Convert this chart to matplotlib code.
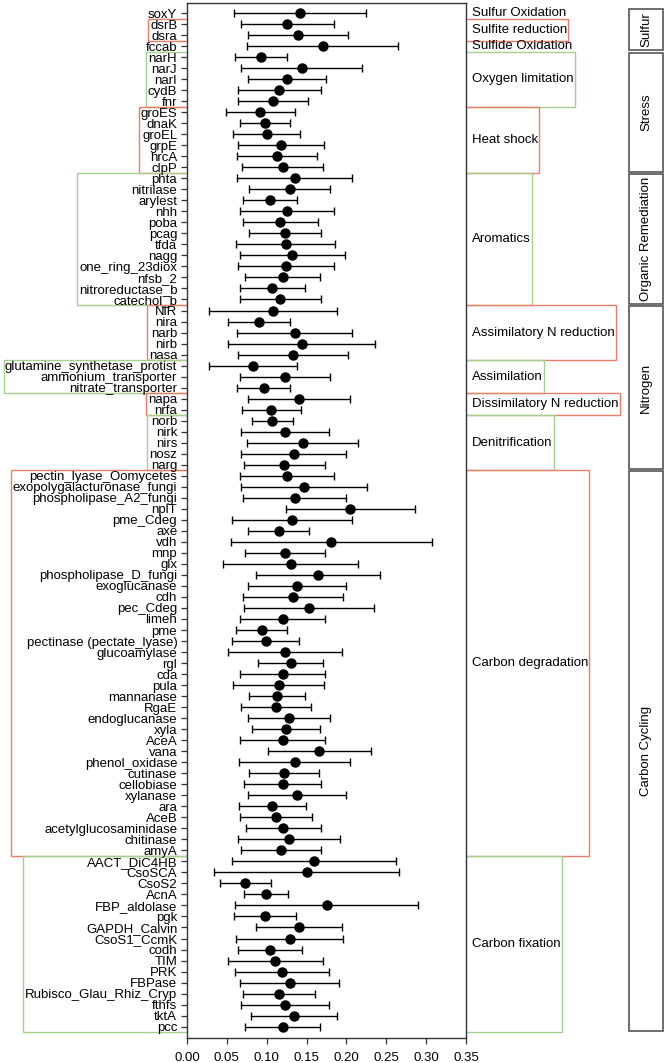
import matplotlib
matplotlib.use("Agg")
import matplotlib.pyplot as plt
from matplotlib.patches import Rectangle
from matplotlib.transforms import blended_transform_factory
import numpy as np

plt.rcParams['font.family'] = ['Liberation Sans', 'DejaVu Sans']

# ---------------- data ----------------
genes = [
    "soxY", "dsrB", "dsra", "fccab",
    "narH", "narJ", "narI", "cydB", "fnr",
    "groES", "dnaK", "groEL", "grpE", "hrcA", "clpP",
    "phta", "nitrilase", "arylest", "nhh", "poba", "pcag", "tfda", "nagg",
    "one_ring_23diox", "nfsb_2", "nitroreductase_b", "catechol_b",
    "NiR", "nira", "narb", "nirb", "nasa",
    "glutamine_synthetase_protist", "ammonium_transporter", "nitrate_transporter",
    "napa", "nrfa",
    "norb", "nirk", "nirs", "nosz", "narg",
    "pectin_lyase_Oomycetes", "exopolygalacturonase_fungi", "phospholipase_A2_fungi",
    "nplT", "pme_Cdeg", "axe", "vdh", "mnp", "glx", "phospholipase_D_fungi",
    "exoglucanase", "cdh", "pec_Cdeg", "limeh", "pme", "pectinase (pectate_lyase)",
    "glucoamylase", "rgl", "cda", "pula", "mannanase", "RgaE", "endoglucanase",
    "xyla", "AceA", "vana", "phenol_oxidase", "cutinase", "cellobiase", "xylanase",
    "ara", "AceB", "acetylglucosaminidase", "chitinase", "amyA",
    "AACT_DiC4HB", "CsoSCA", "CsoS2", "AcnA", "FBP_aldolase", "pgk", "GAPDH_Calvin",
    "CsoS1_CcmK", "codh", "TIM", "PRK", "FBPase", "Rubisco_Glau_Rhiz_Cryp",
    "fthfs", "tktA", "pcc",
]

means = [
    0.142, 0.126, 0.139, 0.170,
    0.093, 0.144, 0.125, 0.116, 0.108,
    0.092, 0.098, 0.100, 0.118, 0.113, 0.120,
    0.135, 0.129, 0.104, 0.126, 0.117, 0.123, 0.124, 0.132,
    0.124, 0.120, 0.107, 0.117,
    0.108, 0.090, 0.135, 0.144, 0.133,
    0.083, 0.123, 0.096,
    0.141, 0.106,
    0.107, 0.123, 0.145, 0.134, 0.122,
    0.125, 0.147, 0.135,
    0.205, 0.132, 0.115, 0.181, 0.123, 0.130, 0.164,
    0.138, 0.133, 0.153, 0.120, 0.094, 0.099,
    0.123, 0.130, 0.120, 0.115, 0.113, 0.112, 0.128,
    0.124, 0.120, 0.166, 0.135, 0.122, 0.120, 0.138,
    0.107, 0.112, 0.121, 0.128, 0.118,
    0.159, 0.150, 0.073, 0.099, 0.175, 0.098, 0.140,
    0.129, 0.104, 0.111, 0.119, 0.129, 0.115,
    0.123, 0.134, 0.120,
]

sds = [
    0.083, 0.058, 0.063, 0.095,
    0.033, 0.076, 0.049, 0.052, 0.044,
    0.043, 0.031, 0.042, 0.054, 0.050, 0.051,
    0.072, 0.051, 0.034, 0.059, 0.047, 0.045, 0.062, 0.066,
    0.060, 0.047, 0.041, 0.051,
    0.080, 0.039, 0.072, 0.092, 0.069,
    0.055, 0.056, 0.033,
    0.064, 0.037,
    0.026, 0.055, 0.070, 0.066, 0.051,
    0.059, 0.079, 0.065,
    0.081, 0.075, 0.038, 0.126, 0.050, 0.085, 0.078,
    0.061, 0.063, 0.082, 0.053, 0.032, 0.042,
    0.071, 0.041, 0.053, 0.057, 0.035, 0.044, 0.051,
    0.043, 0.053, 0.065, 0.070, 0.044, 0.048, 0.062,
    0.042, 0.045, 0.047, 0.064, 0.050,
    0.103, 0.116, 0.032, 0.028, 0.115, 0.039, 0.054,
    0.067, 0.040, 0.060, 0.059, 0.062, 0.045,
    0.055, 0.054, 0.047,
]

subgroup_names = [
    "Sulfur Oxidation", "Sulfite reduction", "Sulfide Oxidation",
    "Oxygen limitation", "Heat shock", "Aromatics",
    "Assimilatory N reduction", "Assimilation", "Dissimilatory N reduction",
    "Denitrification", "Carbon degradation", "Carbon fixation",
]
subgroup_sizes = [1, 2, 1, 5, 6, 12, 5, 3, 2, 5, 35, 16]

category_names = ["Sulfur", "Stress", "Organic Remediation", "Nitrogen", "Carbon Cycling"]
category_sizes = [4, 11, 12, 15, 51]

xticks = [0.00, 0.05, 0.10, 0.15, 0.20, 0.25, 0.30, 0.35]

# ---------------- style ----------------
FS = 9.5
RED = "#f07a68"
GREEN = "#a2d28e"
GRAY = "#555555"

W, H = 666, 1063
fig = plt.figure(figsize=(W / 100, H / 100), dpi=100)
ax_left, ax_right = 187 / W, 466 / W
ax_bottom, ax_top = 1 - 1038 / H, 1 - 3 / H
ax = fig.add_axes([ax_left, ax_bottom, ax_right - ax_left, ax_top - ax_bottom])
ax.set_facecolor("white")
ax.set_zorder(1)

n = len(genes)
y = np.arange(n)
ax.errorbar(means, y, xerr=sds, fmt="o", color="black", ecolor="black",
            elinewidth=1.0, capsize=3, capthick=1.0, markersize=6.5)

ax.set_xlim(0, 0.35)
ax.set_ylim(n - 1 + 1.03, -0.91)
ax.set_yticks(y)
ax.set_yticklabels(genes, fontsize=FS)
ax.set_xticks(xticks)
ax.set_xticklabels([f"{t:.2f}" for t in xticks], fontsize=FS)
ax.tick_params(axis="both", length=4, width=0.9, color="#333333", pad=3)
ax.tick_params(axis="x", pad=6)
for sp in ax.spines.values():
    sp.set_color("#333333")
    sp.set_linewidth(1.0)

# ---------------- right subgroup labels ----------------
trans_lab = blended_transform_factory(fig.transFigure, ax.transData)
sub_texts = []
start = 0
for name, size in zip(subgroup_names, subgroup_sizes):
    yc = start + (size - 1) / 2
    t = fig.text(ax_right + 6 / W, yc, name, transform=trans_lab, fontsize=FS,
                 va="center", ha="left", zorder=3)
    sub_texts.append((t, start, size))
    start += size

fig.canvas.draw()
renderer = fig.canvas.get_renderer()
inv = fig.transFigure.inverted()

tick_boxes = [inv.transform(lab.get_window_extent(renderer)) for lab in ax.get_yticklabels()]

# ---------------- subgroup boxes ----------------
boxed = 0
for t, s, size in sub_texts:
    if size < 2:
        continue
    color = RED if boxed % 2 == 0 else GREEN
    boxed += 1
    left = min(tick_boxes[i][0][0] for i in range(s, s + size)) - 2 / W
    left = max(left, 4 / W)
    tb = inv.transform(t.get_window_extent(renderer))
    right = tb[1][0] + 1 / W
    rect = Rectangle((left, s - 0.5), right - left, size, transform=trans_lab,
                     fill=False, edgecolor=color, linewidth=1.0, zorder=0)
    fig.add_artist(rect)

# ---------------- category boxes ----------------
cx0, cx1 = 629 / W, 663 / W
start = 0
for name, size in zip(category_names, category_sizes):
    top = start - 0.5 + 0.1
    h = size - 0.2
    rect = Rectangle((cx0, top), cx1 - cx0, h, transform=trans_lab, fill=False,
                     edgecolor=GRAY, linewidth=1.2, zorder=0)
    fig.add_artist(rect)
    fig.text((cx0 + cx1) / 2, start + (size - 1) / 2, name, transform=trans_lab,
             rotation=90, fontsize=FS, ha="center", va="center")
    start += size

fig.savefig("out.png", dpi=100)
